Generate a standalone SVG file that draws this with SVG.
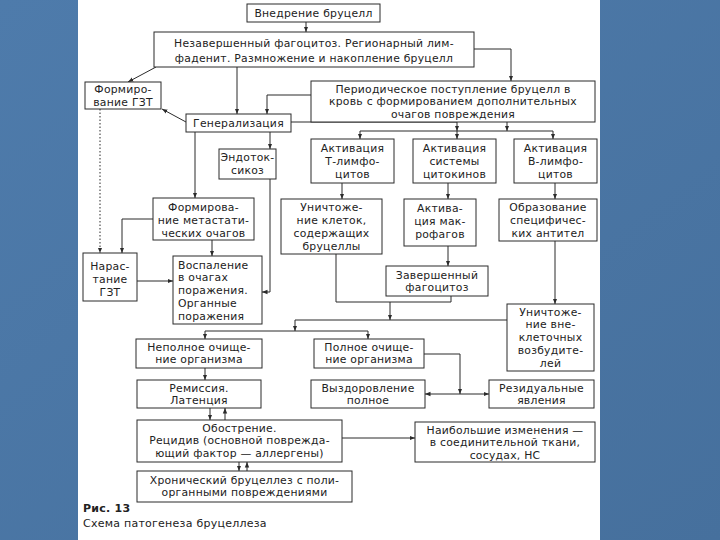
<svg xmlns="http://www.w3.org/2000/svg" width="720" height="540" viewBox="0 0 720 540">
<style>
.bx{fill:#fff;stroke:#2b2b2b;stroke-width:1}
.t{font-family:"DejaVu Sans","Liberation Sans",sans-serif;font-size:10.8px;letter-spacing:0.25px;fill:#222;text-anchor:middle}
.lf{text-anchor:start}
.c{fill:none;stroke:#2b2b2b;stroke-width:1}
.d{stroke-dasharray:1.5 2}
.cap{font-family:"DejaVu Sans","Liberation Sans",sans-serif;font-size:11px;letter-spacing:0.25px;fill:#222}
</style>
<defs>
<marker id="a" viewBox="0 0 10 10" refX="10" refY="5" markerWidth="5.5" markerHeight="5.5" orient="auto"><path d="M0,1 L10,5 L0,9 z" fill="#2b2b2b"/></marker>
<linearGradient id="bg" x1="0" y1="0" x2="1" y2="1"><stop offset="0" stop-color="#4e7bab"/><stop offset="1" stop-color="#46709d"/></linearGradient>
</defs>
<rect x="0" y="0" width="720" height="540" fill="url(#bg)"/>
<rect x="78" y="0" width="522" height="540" fill="#fff"/>

<g id="connectors">
<path class="c" d="M306,22 V32" marker-end="url(#a)"/>
<path class="c" d="M474,49 H511 V81" marker-end="url(#a)"/>
<path class="c" d="M156,67 L128,82" marker-end="url(#a)"/>
<path class="c" d="M237,67 V114" marker-end="url(#a)"/>
<path class="c" d="M311,95 H267 V114" marker-end="url(#a)"/>
<path class="c" d="M186,122 L162,109" marker-end="url(#a)"/>
<path class="c d" d="M100,109 V253" marker-end="url(#a)"/>
<path class="c" d="M195,132 V198" marker-end="url(#a)"/>
<path class="c" d="M270,132 V149" marker-end="url(#a)"/>
<path class="c" d="M291,122 H457 V131" marker-end="url(#a)"/>
<path class="c" d="M507,122 V131" marker-end="url(#a)"/>
<path class="c" d="M360,131 H553"/>
<path class="c" d="M360,131 V139" marker-end="url(#a)"/>
<path class="c" d="M457,131 V139" marker-end="url(#a)"/>
<path class="c" d="M553,131 V139" marker-end="url(#a)"/>
<path class="c" d="M342,183 V199" marker-end="url(#a)"/>
<path class="c" d="M448,183 V199" marker-end="url(#a)"/>
<path class="c" d="M555,183 V199" marker-end="url(#a)"/>
<path class="c" d="M153,219 H122 V253" marker-end="url(#a)"/>
<path class="c" d="M212,240 V256" marker-end="url(#a)"/>
<path class="c" d="M137,281 H173" marker-end="url(#a)"/>
<path class="c" d="M270,179 V292 H262" marker-end="url(#a)"/>
<path class="c" d="M448,246 V266" marker-end="url(#a)"/>
<path class="c" d="M555,241 V304" marker-end="url(#a)"/>
<path class="c" d="M336,254 V302 H451 V296"/>
<path class="c" d="M390,302 V320" marker-end="url(#a)"/>
<path class="c" d="M507,320 H295"/>
<path class="c" d="M295,320 V331" marker-end="url(#a)"/>
<path class="c" d="M205,331 H368"/>
<path class="c" d="M205,331 V339" marker-end="url(#a)"/>
<path class="c" d="M368,331 V339" marker-end="url(#a)"/>
<path class="c" d="M424,354 H460 V394" marker-end="url(#a)"/>
<path class="c" d="M460,394 H425" marker-end="url(#a)"/>
<path class="c" d="M460,394 H489" marker-end="url(#a)"/>
<path class="c" d="M205,368 V380" marker-end="url(#a)"/>
<path class="c" d="M210,408 V420" marker-end="url(#a)"/>
<path class="c" d="M225,420 V408" marker-end="url(#a)"/>
<path class="c" d="M239,462 V471" marker-end="url(#a)"/>
<path class="c" d="M247,471 V462" marker-end="url(#a)"/>
<path class="c" d="M342,438 H415" marker-end="url(#a)"/>
</g>

<g id="n1"><rect class="bx" x="247" y="4" width="133" height="18"/><text class="t" x="313.5" y="17">Внедрение бруцелл</text></g>
<g id="n2"><rect class="bx" x="154" y="32" width="320" height="35"/><text class="t"><tspan x="314" y="47">Незавершенный фагоцитоз. Регионарный лим-</tspan><tspan x="314" y="62">фаденит. Размножение и накопление бруцелл</tspan></text></g>
<g id="n3"><rect class="bx" x="85" y="82" width="76" height="27"/><text class="t"><tspan x="123" y="93">Формиро-</tspan><tspan x="123" y="106">вание ГЗТ</tspan></text></g>
<g id="n4"><rect class="bx" x="311" y="81" width="284" height="41"/><text class="t"><tspan x="453" y="92.5">Периодическое поступление бруцелл в</tspan><tspan x="453" y="105.3">кровь с формированием дополнительных</tspan><tspan x="453" y="118">очагов повреждения</tspan></text></g>
<g id="n5"><rect class="bx" x="186" y="114" width="105" height="18"/><text class="t" x="238.5" y="127">Генерализация</text></g>
<g id="n6"><rect class="bx" x="219" y="149" width="57" height="30"/><text class="t"><tspan x="247.5" y="160.5">Эндоток-</tspan><tspan x="247.5" y="173.5">сикоз</tspan></text></g>
<g id="n7"><rect class="bx" x="311" y="139" width="83" height="44"/><text class="t"><tspan x="352.5" y="151.5">Активация</tspan><tspan x="352.5" y="164.5">Т-лимфо-</tspan><tspan x="352.5" y="177.5">цитов</tspan></text></g>
<g id="n8"><rect class="bx" x="413" y="139" width="83" height="44"/><text class="t"><tspan x="454.5" y="151.5">Активация</tspan><tspan x="454.5" y="164.5">системы</tspan><tspan x="454.5" y="177.5">цитокинов</tspan></text></g>
<g id="n9"><rect class="bx" x="514" y="139" width="83" height="44"/><text class="t"><tspan x="555.5" y="151.5">Активация</tspan><tspan x="555.5" y="164.5">В-лимфо-</tspan><tspan x="555.5" y="177.5">цитов</tspan></text></g>
<g id="n10"><rect class="bx" x="153" y="198" width="101" height="42"/><text class="t"><tspan x="203.5" y="210.5">Формирова-</tspan><tspan x="203.5" y="223.5">ние метастати-</tspan><tspan x="203.5" y="236.5">ческих очагов</tspan></text></g>
<g id="n11"><rect class="bx" x="281" y="199" width="101" height="55"/><text class="t"><tspan x="331.5" y="211">Уничтоже-</tspan><tspan x="331.5" y="224">ние клеток,</tspan><tspan x="331.5" y="237">содержащих</tspan><tspan x="331.5" y="250">бруцеллы</tspan></text></g>
<g id="n12"><rect class="bx" x="404" y="199" width="72" height="47"/><text class="t"><tspan x="440" y="212">Актива-</tspan><tspan x="440" y="225">ция мак-</tspan><tspan x="440" y="238">рофагов</tspan></text></g>
<g id="n13"><rect class="bx" x="499" y="199" width="98" height="42"/><text class="t"><tspan x="548" y="211">Образование</tspan><tspan x="548" y="224">специфичес-</tspan><tspan x="548" y="237">ких антител</tspan></text></g>
<g id="n14"><rect class="bx" x="83" y="253" width="54" height="48"/><text class="t"><tspan x="110" y="270">Нарас-</tspan><tspan x="110" y="283">тание</tspan><tspan x="110" y="296">ГЗТ</tspan></text></g>
<g id="n15"><rect class="bx" x="173" y="256" width="89" height="68"/><text class="t lf"><tspan x="178" y="268.5">Воспаление</tspan><tspan x="178" y="281.3">в очагах</tspan><tspan x="178" y="294.1">поражения.</tspan><tspan x="178" y="306.9">Органные</tspan><tspan x="178" y="319.7">поражения</tspan></text></g>
<g id="n16"><rect class="bx" x="386" y="266" width="102" height="30"/><text class="t"><tspan x="437" y="278.5">Завершенный</tspan><tspan x="437" y="291.3">фагоцитоз</tspan></text></g>
<g id="n17"><rect class="bx" x="507" y="304" width="87" height="67"/><text class="t"><tspan x="550.5" y="315.5">Уничтоже-</tspan><tspan x="550.5" y="328.3">ние вне-</tspan><tspan x="550.5" y="341.1">клеточных</tspan><tspan x="550.5" y="353.9">возбудите-</tspan><tspan x="550.5" y="366.7">лей</tspan></text></g>
<g id="n18"><rect class="bx" x="136" y="339" width="126" height="29"/><text class="t"><tspan x="199" y="350.5">Неполное очище-</tspan><tspan x="199" y="363.3">ние организма</tspan></text></g>
<g id="n19"><rect class="bx" x="314" y="339" width="110" height="29"/><text class="t"><tspan x="369" y="350.5">Полное очище-</tspan><tspan x="369" y="363.3">ние организма</tspan></text></g>
<g id="n20"><rect class="bx" x="137" y="380" width="124" height="28"/><text class="t"><tspan x="199" y="391.5">Ремиссия.</tspan><tspan x="199" y="404.3">Латенция</tspan></text></g>
<g id="n21"><rect class="bx" x="311" y="380" width="114" height="28"/><text class="t"><tspan x="368" y="391.5">Выздоровление</tspan><tspan x="368" y="404.3">полное</tspan></text></g>
<g id="n22"><rect class="bx" x="489" y="380" width="105" height="28"/><text class="t"><tspan x="541.5" y="391.5">Резидуальные</tspan><tspan x="541.5" y="404.3">явления</tspan></text></g>
<g id="n23"><rect class="bx" x="137" y="420" width="205" height="42"/><text class="t"><tspan x="239.5" y="431.5">Обострение.</tspan><tspan x="239.5" y="444.3">Рецидив (основной поврежда-</tspan><tspan x="239.5" y="457.1">ющий фактор — аллергены)</tspan></text></g>
<g id="n24"><rect class="bx" x="415" y="422" width="180" height="40"/><text class="t"><tspan x="505" y="433.5">Наибольшие изменения —</tspan><tspan x="505" y="446.3">в соединительной ткани,</tspan><tspan x="505" y="459">сосудах, НС</tspan></text></g>
<g id="n25"><rect class="bx" x="137" y="471" width="215" height="31"/><text class="t"><tspan x="244.5" y="483.5">Хронический бруцеллез с поли-</tspan><tspan x="244.5" y="496.3">органными повреждениями</tspan></text></g>

<g id="caption"><text class="cap" x="83" y="512" font-weight="bold">Рис. 13</text><text class="cap" x="83" y="527">Схема патогенеза бруцеллеза</text></g>
</svg>
